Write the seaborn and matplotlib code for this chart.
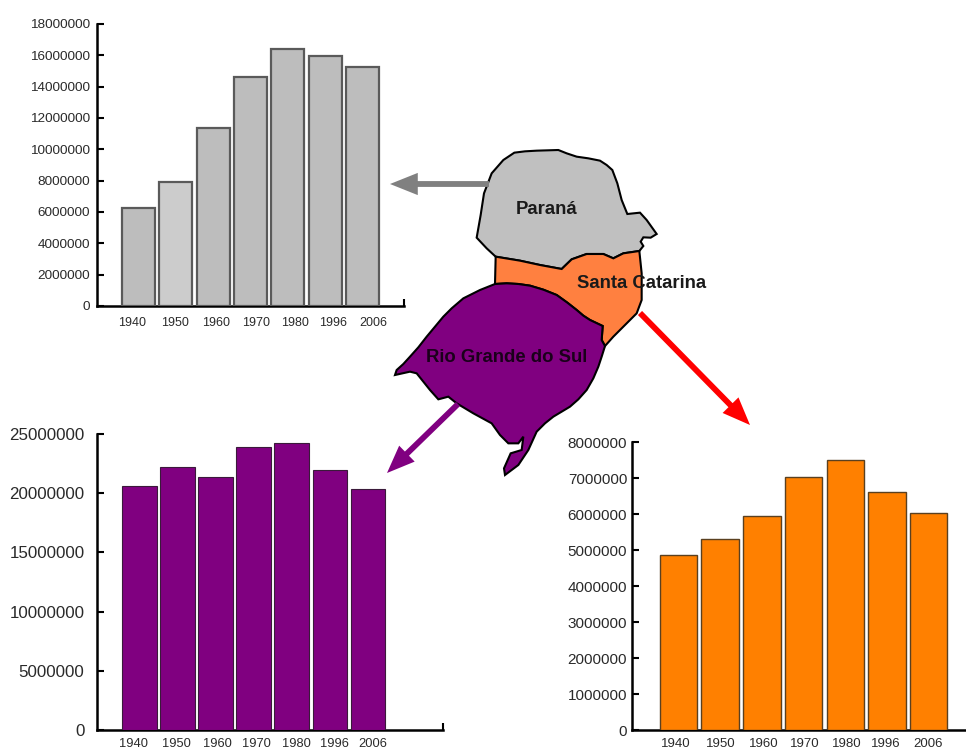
"""Population by census year for the three southern Brazilian states, with a map in the middle."""
import matplotlib
matplotlib.use("Agg")
import matplotlib.pyplot as plt
import pandas as pd
import seaborn as sns
from matplotlib.patches import Polygon

years = ["1940", "1950", "1960", "1970", "1980", "1996", "2006"]

parana_values = [6270000, 7930000, 11380000, 14600000, 16380000, 15940000, 15260000]
rs_values = [20600000, 22240000, 21400000, 23930000, 24200000, 21960000, 20330000]
sc_values = [4860000, 5300000, 5940000, 7020000, 7490000, 6610000, 6030000]

parana_ticks = list(range(0, 18000001, 2000000))
rs_ticks = list(range(0, 25000001, 5000000))
sc_ticks = list(range(0, 8000001, 1000000))

# map outlines in pixels
parana_shape = [(403, 38), (435, 34), (470, 32), (535, 30), (560, 40), (590, 50), (625, 55), (660, 62), (680, 75),
                (697, 90), (712, 130), (725, 180), (742, 222), (780, 218), (800, 240), (830, 282), (812, 293),
                (790, 292), (782, 305), (790, 318), (778, 333), (730, 340), (700, 355), (670, 342), (620, 342),
                (575, 358), (545, 387), (480, 375), (420, 362), (347, 350), (320, 325), (290, 293), (302, 225),
                (312, 160), (335, 100), (370, 60)]
sc_shape = [(347, 350), (420, 362), (480, 375), (545, 387), (575, 358), (620, 342), (670, 342), (700, 355),
            (730, 340), (778, 333), (785, 400), (785, 480), (770, 520), (740, 550), (700, 590), (675, 618),
            (665, 600), (668, 558), (630, 540), (610, 527), (590, 510), (562, 488), (530, 465), (490, 449),
            (450, 437), (415, 432), (380, 430), (345, 432)]
rs_shape = [(345, 432), (380, 430), (415, 432), (450, 437), (490, 449), (530, 465), (562, 488), (590, 510),
            (610, 527), (630, 540), (668, 558), (665, 600), (675, 618), (665, 650), (655, 680), (640, 715),
            (620, 750), (595, 778), (570, 800), (545, 815), (520, 830), (495, 850), (470, 875), (445, 930),
            (415, 975), (375, 1005), (372, 985), (392, 940), (425, 930), (430, 890), (415, 910), (385, 910),
            (360, 885), (335, 850), (280, 820), (230, 790), (205, 770), (175, 778), (150, 750), (110, 700),
            (90, 695), (45, 705), (50, 690), (70, 672), (90, 650), (115, 622), (140, 590), (165, 560),
            (190, 530), (215, 505), (250, 475), (300, 450)]

sns.set_theme(style="white")
plt.rcParams["font.family"] = ["Liberation Sans", "DejaVu Sans"]

W, H = 966, 752
fig = plt.figure(figsize=(W / 100, H / 100), dpi=100)


def bar_panel(rect, values, ticks, colors, edge, edge_w, centre0, pitch, bar_w, label_x, y_size, x_size, y_pad, x_pad):
    # rect is left, top, right, bottom of the axes in pixels
    left, top, right, bottom = rect
    ax = fig.add_axes([left / W, 1 - bottom / H, (right - left) / W, (bottom - top) / H])
    df = pd.DataFrame({"year": years, "value": values})
    sns.barplot(data=df, x="year", y="value", hue="year", palette=colors, legend=False, saturation=1,
                width=bar_w / pitch, edgecolor=edge, linewidth=edge_w, ax=ax)
    xmin = (left - centre0) / pitch
    xmax = (right - centre0) / pitch
    ax.set_xlim(xmin, xmax)
    ax.set_ylim(ticks[0], ticks[-1])
    ax.set_yticks(ticks, [str(t) for t in ticks])
    ax.set_xticks([(x - centre0) / pitch for x in label_x], years)
    # small upward tick closing the x axis, except where it runs off the page
    if right < W:
        ax.set_xticks([xmax - 0.01], minor=True)
    ax.set_xlabel("")
    ax.set_ylabel("")
    ax.tick_params(axis="y", direction="in", length=5, width=1.5, color="black", left=True,
                   labelsize=y_size, labelcolor="#2a2a2a", pad=y_pad)
    ax.tick_params(axis="x", which="major", length=0, labelsize=x_size, labelcolor="#2a2a2a", pad=x_pad)
    ax.tick_params(axis="x", which="minor", direction="in", length=5, width=1.5, color="black", bottom=True)
    sns.despine(ax=ax)
    for side in ["left", "bottom"]:
        ax.spines[side].set_color("black")
        ax.spines[side].set_linewidth(1.8)
        ax.spines[side].set_zorder(0.5)
    ax.patch.set_alpha(0)
    return ax


grey_colors = ["#bdbdbd", "#cccccc", "#bdbdbd", "#bdbdbd", "#bdbdbd", "#bdbdbd", "#bdbdbd"]
bar_panel((97, 24, 404, 306), parana_values, parana_ticks, grey_colors, "#5a5a5a", 1.6,
          138.5, 37.3, 33, [132, 175, 216, 256, 295, 333, 373], 9.7, 9, 5, 8)
bar_panel((97, 434, 443, 730), rs_values, rs_ticks, ["#800080"] * 7, "#3a1a3a", 0.8,
          139.3, 38.1, 34.5, [133, 176, 217, 256, 296, 334, 373], 12.2, 9.3, 9, 6)
bar_panel((632, 442, 966, 730), sc_values, sc_ticks, ["#ff8000"] * 7, "#5a4020", 1.0,
          678.5, 41.7, 37.5, [676, 721, 764, 805, 847, 886, 928], 11, 9.5, 3.5, 6)

# overlay in pixel coordinates for the map and the arrows
overlay = fig.add_axes([0, 0, 1, 1])
overlay.set_xlim(0, W)
overlay.set_ylim(H, 0)
overlay.axis("off")
overlay.patch.set_alpha(0)


def to_pixels(shape):
    return [(380 + x / 3, 140 + y / 3) for x, y in shape]


arrows = [((489, 184), (390, 184), "#808080"),
          ((640, 313), (750, 425), "#ff0000"),
          ((458, 404), (387, 473), "#800080")]
for start, end, col in arrows:
    overlay.annotate("", xy=end, xytext=start,
                     arrowprops=dict(facecolor=col, edgecolor="none", width=4.2, headwidth=16, headlength=20, shrink=0))

for shape, col in [(parana_shape, "#c0c0c0"), (sc_shape, "#ff8040"), (rs_shape, "#800080")]:
    overlay.add_patch(Polygon(to_pixels(shape), closed=True, facecolor=col, edgecolor="black", linewidth=1.5))

overlay.text(547, 210, "Paraná", ha="center", va="center", fontsize=13.3, fontweight="bold", color="#1a1a1a")
overlay.text(642, 284, "Santa Catarina", ha="center", va="center", fontsize=13.3, fontweight="bold", color="#1a1a1a")
overlay.text(507, 357, "Rio Grande do Sul", ha="center", va="center", fontsize=13.3, fontweight="bold", color="#1a001a")

plt.savefig("out.png", dpi=100)
